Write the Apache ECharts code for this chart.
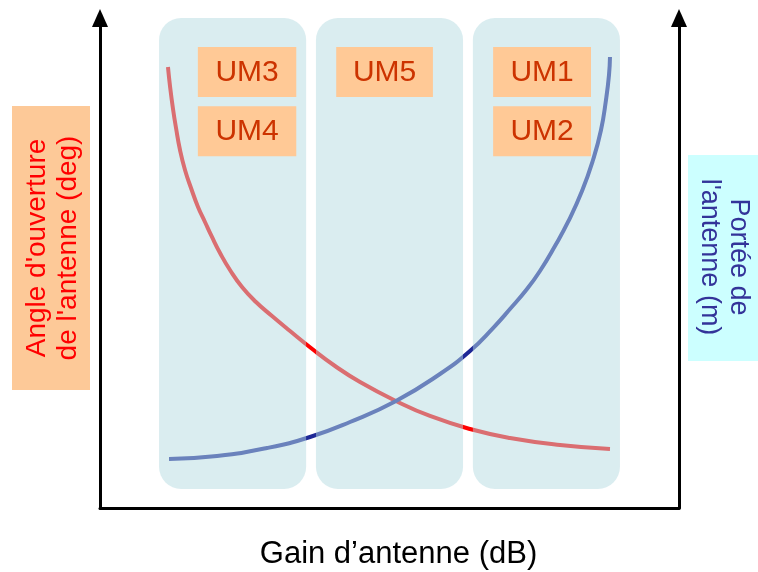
<!DOCTYPE html>
<html>
<head>
<meta charset="utf-8">
<script src="https://cdn.jsdelivr.net/npm/echarts@6/dist/echarts.min.js"></script>
<style>html,body{margin:0;padding:0;background:#fff}#c{width:758px;height:572px}</style>
</head>
<body>
<div id="c"></div>
<script>
// Angle d'ouverture (red curve)
const gainRed  = [11.74, 12.09, 12.61, 13.13, 13.82, 14.68, 15.72, 16.93, 18.13, 19.34, 20.73, 22.45, 24.53, 26.94, 29.71, 32.82, 36.44, 40.59, 44.91, 51.12, 56.99, 63.90, 70.81, 79.45, 88.08];
const angleRed = [90.00, 86.12, 81.43, 77.55, 73.06, 68.98, 65.31, 61.43, 58.37, 55.31, 52.04, 48.57, 45.10, 42.04, 39.18, 36.12, 32.65, 28.98, 25.71, 21.84, 18.78, 16.12, 14.29, 12.86, 12.04];
// Portée (blue curve)
const gainBlue  = [11.92, 20.21, 28.84, 36.27, 43.18, 51.12, 58.72, 63.90, 67.88, 70.81, 73.75, 75.99, 78.58, 80.83, 83.25, 85.15, 86.53, 87.39, 87.91, 88.08];
const rangeBlue = [10.00, 10.61, 12.24, 14.49, 17.55, 21.84, 27.35, 32.04, 36.73, 40.61, 44.69, 48.37, 53.47, 58.37, 64.69, 71.02, 77.14, 83.27, 88.37, 92.04];
// Panels (gain ranges)
const panelStart = [10.2, 37.3, 64.4];
const panelEnd   = [35.6, 62.7, 89.8];
const panelBottom = 3.9, panelTop = 100;
// UM labels
const umNames  = ['UM3', 'UM4', 'UM5', 'UM1', 'UM2'];
const umStart  = [16.9, 16.9, 40.8, 67.9, 67.9];
const umEnd    = [33.9, 33.9, 57.5, 84.8, 84.8];
const umBottom = [83.9, 71.8, 83.9, 83.9, 71.8];
const umTop    = [94.1, 82.0, 94.1, 94.1, 82.0];

const FONT = '"Liberation Sans", Arial, sans-serif';
const chart = echarts.init(document.getElementById('c'));

const redData = gainRed.map((g, i) => [g, angleRed[i]]);
const blueData = gainBlue.map((g, i) => [g, rangeBlue[i]]);
const panelData = panelStart.map((s, i) => [s, panelEnd[i], panelBottom, panelTop]);
const umData = umNames.map((n, i) => [umStart[i], umEnd[i], umBottom[i], umTop[i]]);

const axisLineArrow = { show: true, onZero: false, symbol: ['none', 'triangle'], symbolSize: [16, 18], lineStyle: { color: '#000', width: 3 } };

chart.setOption({
  animation: false,
  grid: { left: 100, right: 79, top: 18, bottom: 64, containLabel: false, outerBoundsMode: 'none' },
  xAxis: {
    type: 'value', min: 0, max: 100,
    name: 'Gain d\u2019antenne (dB)', nameLocation: 'middle', nameGap: 31,
    nameTextStyle: { fontFamily: FONT, fontSize: 31, color: '#000', padding: [0, 0, 0, 18] },
    axisLine: { show: true, onZero: false, lineStyle: { color: '#000', width: 3 } },
    axisTick: { show: false }, axisLabel: { show: false }, splitLine: { show: false }
  },
  yAxis: [
    {
      type: 'value', min: 0, max: 100, position: 'left',
      axisLine: axisLineArrow,
      axisTick: { show: false }, axisLabel: { show: false }, splitLine: { show: false }
    },
    {
      type: 'value', min: 0, max: 100, position: 'right',
      axisLine: axisLineArrow,
      axisTick: { show: false }, axisLabel: { show: false }, splitLine: { show: false }
    }
  ],
  graphic: [
    { type: 'rect', x: 12, y: 106, shape: { width: 78, height: 284 }, style: { fill: '#fdc998' } },
    { type: 'text', x: 53, y: 248, rotation: Math.PI / 2,
      style: { text: "Angle d'ouverture\nde l'antenne (deg)", fill: '#ff0000', font: '28px ' + FONT, align: 'center', verticalAlign: 'middle', lineHeight: 31 } },
    { type: 'rect', x: 688, y: 155, shape: { width: 70, height: 206 }, style: { fill: '#ccffff' } },
    { type: 'text', x: 724, y: 257, rotation: -Math.PI / 2,
      style: { text: "Portée de\nl'antenne (m)", fill: '#333399', font: '27px ' + FONT, align: 'center', verticalAlign: 'middle', lineHeight: 29 } }
  ],
  series: [
    { type: 'line', data: redData, smooth: 0.5, showSymbol: false, z: 1,
      lineStyle: { color: '#ff0000', width: 4 } },
    { type: 'line', data: blueData, smooth: 0.5, showSymbol: false, z: 1,
      lineStyle: { color: '#1e2896', width: 4 } },
    { type: 'custom', z: 3, data: panelData, encode: { x: [0, 1], y: [2, 3] },
      renderItem: function (params, api) {
        const p0 = api.coord([api.value(0), api.value(3)]);
        const p1 = api.coord([api.value(1), api.value(2)]);
        return { type: 'rect', shape: { x: p0[0], y: p0[1], width: p1[0] - p0[0], height: p1[1] - p0[1], r: 22 },
          style: { fill: 'rgba(182,219,225,0.5)' } };
      } },
    { type: 'custom', z: 4, data: umData, encode: { x: [0, 1], y: [2, 3] },
      renderItem: function (params, api) {
        const p0 = api.coord([api.value(0), api.value(3)]);
        const p1 = api.coord([api.value(1), api.value(2)]);
        const w = p1[0] - p0[0], h = p1[1] - p0[1];
        return { type: 'group', children: [
          { type: 'rect', shape: { x: p0[0], y: p0[1], width: w, height: h }, style: { fill: '#ffc996' } },
          { type: 'text', x: p0[0] + w / 2, y: p0[1] + h / 2 + 1,
            style: { text: umNames[params.dataIndex], fill: '#cc3300', font: '30px ' + FONT, align: 'center', verticalAlign: 'middle' } }
        ] };
      } }
  ]
});
</script>
</body>
</html>
